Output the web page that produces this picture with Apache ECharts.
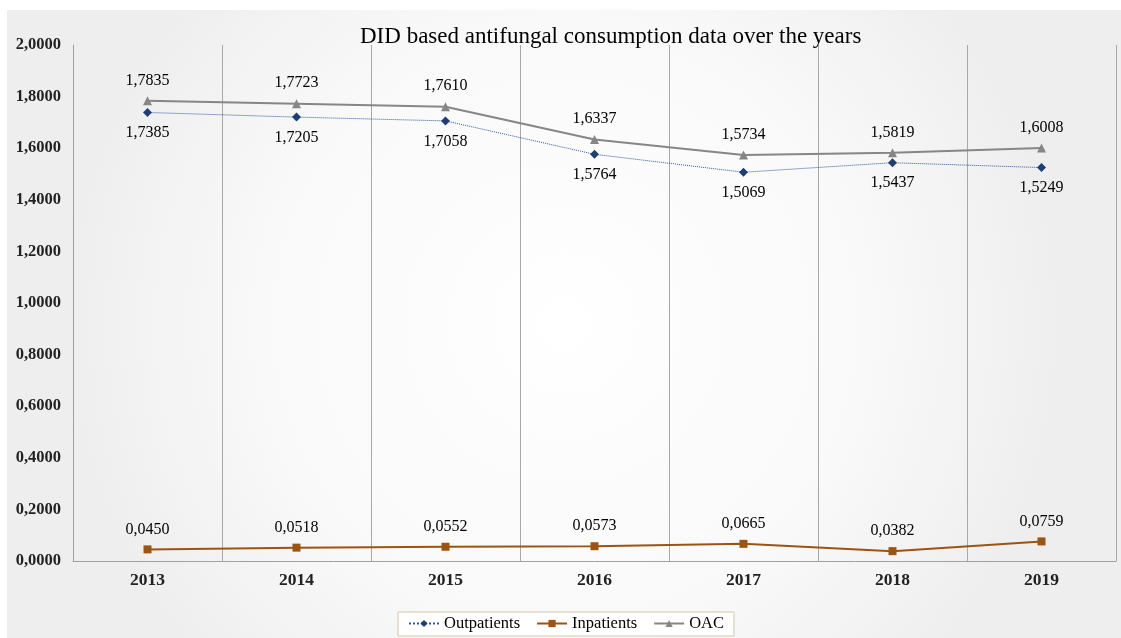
<!DOCTYPE html>
<html>
<head>
<meta charset="utf-8">
<script src="https://cdn.jsdelivr.net/npm/echarts@6/dist/echarts.min.js"></script>
<style>
  html, body { margin: 0; padding: 0; background: #ffffff; }
  #chart { position: absolute; left: 7px; top: 10px; width: 1114px; height: 628px; }
</style>
</head>
<body>
<div id="chart"></div>
<script>
// data
var years = ["2013", "2014", "2015", "2016", "2017", "2018", "2019"];
var outpatients = [1.7385, 1.7205, 1.7058, 1.5764, 1.5069, 1.5437, 1.5249];
var inpatients = [0.0450, 0.0518, 0.0552, 0.0573, 0.0665, 0.0382, 0.0759];
var oac = [1.7835, 1.7723, 1.7610, 1.6337, 1.5734, 1.5819, 1.6008];

var serif = "Liberation Serif";
// comma as decimal separator, 4 digits
var fmt = function(v) {
  return Number(v).toFixed(4).replace(".", ",");
};

var chart = echarts.init(document.getElementById("chart"));

var labelStyle = {
  show: true,
  fontFamily: serif,
  fontSize: 16,
  color: "#000",
  distance: 8,
  formatter: function(p) { return fmt(p.value); }
};

var option = {
  backgroundColor: {
    type: "radial",
    x: 0.5,
    y: 0.5,
    r: 0.8,
    colorStops: [
      { offset: 0, color: "#ffffff" },
      { offset: 0.6, color: "#f9f9f9" },
      { offset: 1, color: "#eeeeee" }
    ]
  },
  animation: false,
  title: {
    text: "DID based antifungal consumption data over the years",
    left: 348,
    top: 10,
    textStyle: {
      fontFamily: serif,
      fontSize: 23,
      fontWeight: "normal",
      color: "#000"
    }
  },
  legend: {
    top: 602,
    left: 391,
    itemGap: 16,
    itemWidth: 30,
    itemHeight: 9,
    padding: [3, 10, 4, 10],
    backgroundColor: "#ffffff",
    borderColor: "#cfc9a8",
    borderWidth: 1,
    borderRadius: 0,
    textStyle: { fontFamily: serif, fontSize: 16.5, color: "#000" },
    data: ["Outpatients", "Inpatients", "OAC"]
  },
  grid: {
    left: 66,
    right: 5,
    top: 35,
    bottom: 77
  },
  xAxis: {
    type: "category",
    data: years,
    boundaryGap: true,
    axisLine: { show: true, lineStyle: { color: "#a0a0a0", width: 1 } },
    axisTick: { show: false },
    axisLabel: {
      fontFamily: serif,
      fontSize: 17.5,
      fontWeight: "bold",
      color: "#222",
      margin: 10
    },
    splitLine: { show: true, lineStyle: { color: "#a8a8a8", width: 1 } }
  },
  yAxis: {
    type: "value",
    min: 0,
    max: 2,
    interval: 0.2,
    axisLine: { show: true, lineStyle: { color: "#a0a0a0", width: 1 } },
    axisTick: { show: false },
    splitLine: { show: false },
    axisLabel: {
      fontFamily: serif,
      fontSize: 16.5,
      fontWeight: "bold",
      color: "#222",
      margin: 12,
      formatter: fmt
    }
  },
  series: [
    {
      name: "Outpatients",
      type: "line",
      data: outpatients,
      symbol: "diamond",
      symbolSize: 9,
      itemStyle: { color: "#1f3f73" },
      lineStyle: { color: "#2a5aa0", width: 1, type: "dotted" },
      label: Object.assign({}, labelStyle, { position: "bottom" }),
      z: 3
    },
    {
      name: "Inpatients",
      type: "line",
      data: inpatients,
      symbol: "rect",
      symbolSize: 8,
      itemStyle: { color: "#9c5413" },
      lineStyle: { color: "#9c5413", width: 2 },
      label: Object.assign({}, labelStyle, { position: "top" }),
      z: 3
    },
    {
      name: "OAC",
      type: "line",
      data: oac,
      symbol: "triangle",
      symbolSize: 9,
      itemStyle: { color: "#868686" },
      lineStyle: { color: "#868686", width: 2 },
      label: Object.assign({}, labelStyle, { position: "top" }),
      z: 4
    }
  ]
};

chart.setOption(option);
</script>
</body>
</html>
